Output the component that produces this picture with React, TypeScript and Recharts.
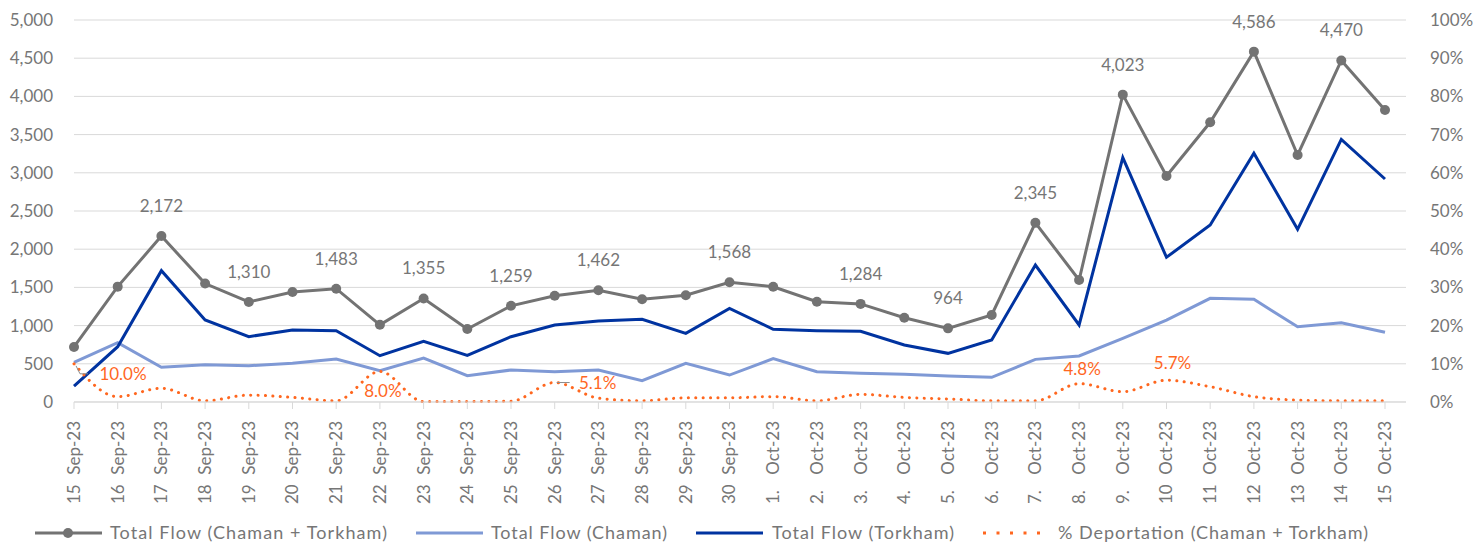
import { LineChart, Line, XAxis, YAxis, CartesianGrid, LabelList, Legend } from "recharts";

const categories = [
  "15 Sep-23", "16 Sep-23", "17 Sep-23", "18 Sep-23", "19 Sep-23", "20 Sep-23", "21 Sep-23", "22 Sep-23",
  "23 Sep-23", "24 Sep-23", "25 Sep-23", "26 Sep-23", "27 Sep-23", "28 Sep-23", "29 Sep-23", "30 Sep-23",
  "1. Oct-23", "2. Oct-23", "3. Oct-23", "4. Oct-23", "5. Oct-23", "6. Oct-23", "7. Oct-23", "8. Oct-23",
  "9. Oct-23", "10 Oct-23", "11 Oct-23", "12 Oct-23", "13 Oct-23", "14 Oct-23", "15 Oct-23",
];

const totalFlow = [
  720, 1510, 2172, 1550, 1310, 1440, 1483, 1010, 1355, 955, 1259, 1391, 1462, 1344, 1397, 1568,
  1509, 1313, 1284, 1103, 964, 1139, 2345, 1597, 4023, 2958, 3661, 4586, 3233, 4470, 3822,
];

const chamanFlow = [
  520, 776, 455, 488, 475, 506, 563, 410, 576, 344, 419, 397, 419, 279, 506, 353,
  567, 397, 376, 363, 340, 323, 558, 602, 834, 1073, 1357, 1344, 986, 1038, 912,
];

const torkhamFlow = [
  209, 724, 1719, 1073, 855, 942, 933, 606, 794, 611, 855, 1008, 1060, 1082, 899, 1226,
  951, 933, 925, 746, 637, 811, 1793, 1008, 3198, 1894, 2317, 3255, 2260, 3438, 2919,
];

// % deportation, in percent
const deportationPct = [
  10.0, 1.4, 3.6, 0.3, 1.8, 1.2, 0.3, 8.0, 0.1, 0.1, 0.2, 5.1, 1.0, 0.3, 1.1, 1.1,
  1.4, 0.3, 2.0, 1.2, 0.8, 0.3, 0.3, 4.8, 2.7, 5.7, 4.0, 1.4, 0.5, 0.3, 0.3,
];

const flowTicks = [0, 500, 1000, 1500, 2000, 2500, 3000, 3500, 4000, 4500, 5000];
const pctTicks = [0, 0.1, 0.2, 0.3, 0.4, 0.5, 0.6, 0.7, 0.8, 0.9, 1];

const totalLabelIdx = [2, 4, 6, 8, 10, 12, 15, 18, 20, 22, 24, 27, 29];
const pctLabelIdx = [0, 7, 11, 23, 25];

const legendNames = [
  "Total Flow (Chaman + Torkham)",
  "Total Flow (Chaman)",
  "Total Flow (Torkham)",
  "% Deportation (Chaman + Torkham)",
];

const data = categories.map((date, i) => ({
  date,
  total: totalFlow[i],
  chaman: chamanFlow[i],
  torkham: torkhamFlow[i],
  pct: deportationPct[i] / 100,
}));

const FONT = "Lato, 'Open Sans', sans-serif";
const TEXT = "#767676";
const GRID = "#D9D9D9";
const GRAY = "#737373";
const LIGHT = "#7F99D5";
const DARK = "#0033A0";
const ORANGE = "#FF671F";

// where each % label sits relative to its point
const pctLabelPos: Record<number, { dx: number; dy: number; lead?: string }> = {
  0: { dx: 49, dy: 16, lead: "2,2 6,10 14,10" },
  7: { dx: 3, dy: 26 },
  11: { dx: 43, dy: 6, lead: "2,0 15,0" },
  23: { dx: 3, dy: -9 },
  25: { dx: 6, dy: -11 },
};

function DateTick({ x, y, payload }: any) {
  const s: string = payload.value;
  const sp = s.indexOf(" ");
  const day = s.slice(0, sp);
  const rest = s.slice(sp + 1);
  const common = { fill: TEXT, fontSize: 17, fontFamily: FONT, dy: "0.35em" };
  return (
    <g transform={`translate(${x},0)`}>
      <text {...common} transform={`translate(0,${y + 10}) rotate(-90)`} textAnchor="end">
        {rest}
      </text>
      <text {...common} transform={`translate(0,${y + 93}) rotate(-90)`} textAnchor="start">
        {day}
      </text>
    </g>
  );
}

function TotalLabel(props: any) {
  const { x, y, value, index } = props;
  if (!totalLabelIdx.includes(index)) return null;
  return (
    <text x={x} y={y - 24} textAnchor="middle" fill={TEXT} fontSize={17} fontFamily={FONT}>
      {Number(value).toLocaleString("en-US")}
    </text>
  );
}

function PctLabel(props: any) {
  const { x, y, value, index } = props;
  if (!pctLabelIdx.includes(index)) return null;
  const p = pctLabelPos[index];
  return (
    <g>
      {p.lead && (
        <polyline
          points={p.lead.split(" ").map((pt) => { const [a, b] = pt.split(",").map(Number); return `${x + a},${y + b}`; }).join(" ")}
          fill="none"
          stroke="#8C8C8C"
          strokeWidth={1}
        />
      )}
      <text x={x + p.dx} y={y + p.dy} textAnchor="middle" fill={ORANGE} fontSize={17} fontFamily={FONT}>
        {(Number(value) * 100).toFixed(1)}%
      </text>
    </g>
  );
}

function ChartLegend() {
  const items = [
    { x: 35, color: GRAY, dot: true, dash: undefined as string | undefined, tx: 110, w: 277 },
    { x: 416, color: LIGHT, dot: false, dash: undefined, tx: 491, w: 176 },
    { x: 696, color: DARK, dot: false, dash: undefined, tx: 772, w: 182 },
    { x: 983, color: ORANGE, dot: false, dash: "3 10.5", tx: 1058, w: 310 },
  ];
  return (
    <svg width={1476} height={32} style={{ display: "block" }}>
      {items.map((it, i) => (
        <g key={i}>
          <line x1={it.x} x2={it.x + 67} y1={21} y2={21} stroke={it.color} strokeWidth={3} strokeDasharray={it.dash} />
          {it.dot && <circle cx={it.x + 33} cy={21} r={5} fill={it.color} />}
          <text
            x={it.tx}
            y={21}
            dy="0.35em"
            fill={TEXT}
            fontSize={18}
            fontFamily={FONT}
            textLength={it.w}
            lengthAdjust="spacing"
          >
            {legendNames[i]}
          </text>
        </g>
      ))}
    </svg>
  );
}

export default function App() {
  return (
    <div style={{ position: "absolute", left: 0, top: 0, width: 1476, height: 544, background: "#fff" }}>
      <LineChart width={1476} height={544} data={data} margin={{ top: 20, right: 0, bottom: 0, left: 0 }}>
        <CartesianGrid vertical={false} stroke={GRID} yAxisId="flow" />
        <XAxis
          dataKey="date"
          interval={0}
          height={110}
          padding={{ left: 0, right: 21 }}
          tickSize={7}
          tickLine={{ stroke: GRID }}
          axisLine={{ stroke: GRID }}
          tick={<DateTick />}
        />
        <YAxis
          yAxisId="flow"
          width={74}
          domain={[0, 5000]}
          ticks={flowTicks}
          tickFormatter={(v: number) => v.toLocaleString("en-US")}
          axisLine={false}
          tickLine={false}
          tickSize={0}
          tickMargin={21}
          tick={{ fill: TEXT, fontSize: 17, fontFamily: FONT }}
        />
        <YAxis
          yAxisId="pct"
          orientation="right"
          width={70}
          domain={[0, 1]}
          ticks={pctTicks}
          tickFormatter={(v: number) => `${Math.round(v * 100)}%`}
          axisLine={false}
          tickLine={false}
          tickSize={0}
          tickMargin={24}
          tick={{ fill: TEXT, fontSize: 17, fontFamily: FONT, textAnchor: "start" }}
        />
        <Legend verticalAlign="bottom" content={<ChartLegend />} wrapperStyle={{ left: 0, width: 1476, height: 32 }} />
        <Line
          yAxisId="flow"
          dataKey="total"
          name={legendNames[0]}
          stroke={GRAY}
          strokeWidth={3}
          dot={{ r: 5, fill: GRAY, stroke: GRAY, strokeWidth: 0 }}
          isAnimationActive={false}
        >
          <LabelList dataKey="total" content={<TotalLabel />} />
        </Line>
        <Line yAxisId="flow" dataKey="chaman" name={legendNames[1]} stroke={LIGHT} strokeWidth={3} dot={false} isAnimationActive={false} />
        <Line yAxisId="flow" dataKey="torkham" name={legendNames[2]} stroke={DARK} strokeWidth={3} dot={false} isAnimationActive={false} />
        <Line
          yAxisId="pct"
          type="monotone"
          dataKey="pct"
          name={legendNames[3]}
          stroke={ORANGE}
          strokeWidth={3}
          strokeDasharray="0.1 7.3"
          strokeLinecap="round"
          dot={false}
          isAnimationActive={false}
        >
          <LabelList dataKey="pct" content={<PctLabel />} />
        </Line>
      </LineChart>
    </div>
  );
}
